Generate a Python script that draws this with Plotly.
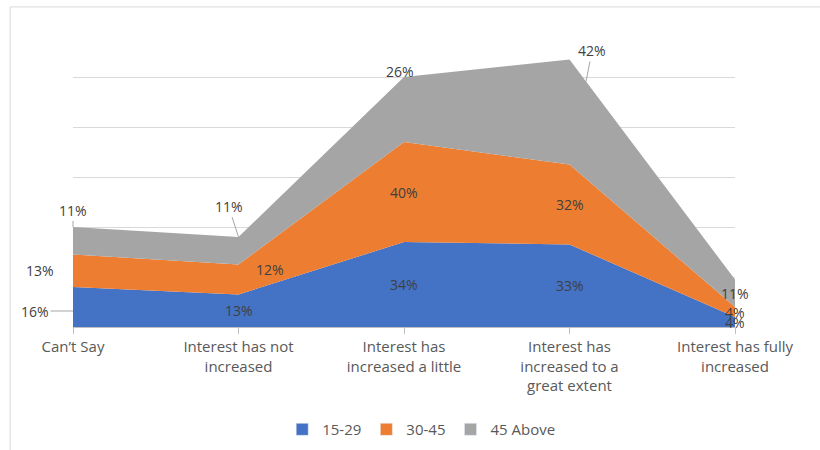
import plotly.graph_objects as go

categories = [
    "Can’t Say",
    "Interest has not<br>increased",
    "Interest has<br>increased a little",
    "Interest has<br>increased to a<br>great extent",
    "Interest has fully<br>increased",
]
age_15_29 = [16, 13, 34, 33, 4]
age_30_45 = [13, 12, 40, 32, 4]
age_45_above = [11, 11, 26, 42, 11]

series = [
    ("15-29", age_15_29, "#4472C4"),
    ("30-45", age_30_45, "#ED7D31"),
    ("45 Above", age_45_above, "#A5A5A5"),
]

TEXT = "#595959"
LABEL = "#404040"
GRID = "#d9d9d9"
FONT = "Open Sans"

xs = list(range(len(categories)))

fig = go.Figure()
for name, vals, color in series:
    fig.add_trace(go.Scatter(
        x=xs, y=vals, name=name, mode="lines",
        stackgroup="one", line=dict(width=0, color=color),
        fillcolor=color, hoverinfo="skip", showlegend=False,
    ))
# square legend keys, like the original
for name, vals, color in series:
    fig.add_trace(go.Bar(x=[None], y=[None], name=name, marker_color=color,
                         hoverinfo="skip"))

# data labels: centred in each band, a few nudged like the original
nudges = {
    (0, 0): dict(yshift=-4, ax=-38, ay=0),
    (1, 0): dict(xshift=-33),
    (1, 1): dict(xshift=31, yshift=10),
    (2, 0): dict(at="top", ax=0, ay=-17),
    (2, 1): dict(at="top", ax=-10, ay=-31),
    (2, 2): dict(at="top", xshift=-4, yshift=6),
    (2, 3): dict(at="slope", ax=6, ay=-31),
}

annotations = []
base = [0] * len(xs)
for si, (name, vals, color) in enumerate(series):
    for ci, v in enumerate(vals):
        top = base[ci] + v
        mid = base[ci] + v / 2
        n = nudges.get((si, ci), {})
        px, py = ci, mid
        if n.get("at") == "top":
            py = top
        elif n.get("at") == "slope":
            nxt_top = sum(s[1][ci + 1] for s in series[: si + 1])
            px = ci + 0.1
            py = top + 0.1 * (nxt_top - top)
        a = dict(x=px, y=py, text=f"{v}%", font=dict(family=FONT, size=14, color=LABEL),
                 xshift=n.get("xshift", 0), yshift=n.get("yshift", 0))
        if "ax" in n:
            a.update(showarrow=True, ax=n["ax"], ay=n["ay"], arrowhead=0,
                     arrowwidth=1, arrowcolor="#a6a6a6", standoff=0)
        else:
            a.update(showarrow=False)
        annotations.append(a)
    base = [b + v for b, v in zip(base, vals)]

fig.update_layout(
    width=820, height=450,
    margin=dict(l=73, r=85, t=27, b=123, autoexpand=False),
    paper_bgcolor="white", plot_bgcolor="white",
    font=dict(family=FONT, color=TEXT),
    showlegend=True,
    legend=dict(orientation="h", x=0.526, xanchor="center", y=-0.342, yanchor="middle",
                font=dict(size=15, color=TEXT), traceorder="normal"),
    xaxis=dict(range=[0, 4], tickvals=xs, ticktext=categories, showgrid=False,
               showline=True, linecolor="#bfbfbf", linewidth=1, automargin=False,
               ticks="outside", ticklen=6, tickcolor="#bfbfbf",
               tickfont=dict(size=15, color=TEXT), zeroline=False, fixedrange=True),
    yaxis=dict(range=[0, 120], dtick=20, showticklabels=False, gridcolor=GRID,
               gridwidth=1, zeroline=False, fixedrange=True, automargin=False),
    annotations=annotations,
    shapes=[dict(type="rect", xref="paper", yref="paper", x0=-0.095, x1=1.2,
                 y0=-0.45, y1=1.067, line=dict(color=GRID, width=1), layer="below")],
)

# page body has a default 8px margin; drop it so the figure sits at 0,0
fig.write_html("out.html", config={"displayModeBar": False},
               post_script="document.body.style.margin='0';")
